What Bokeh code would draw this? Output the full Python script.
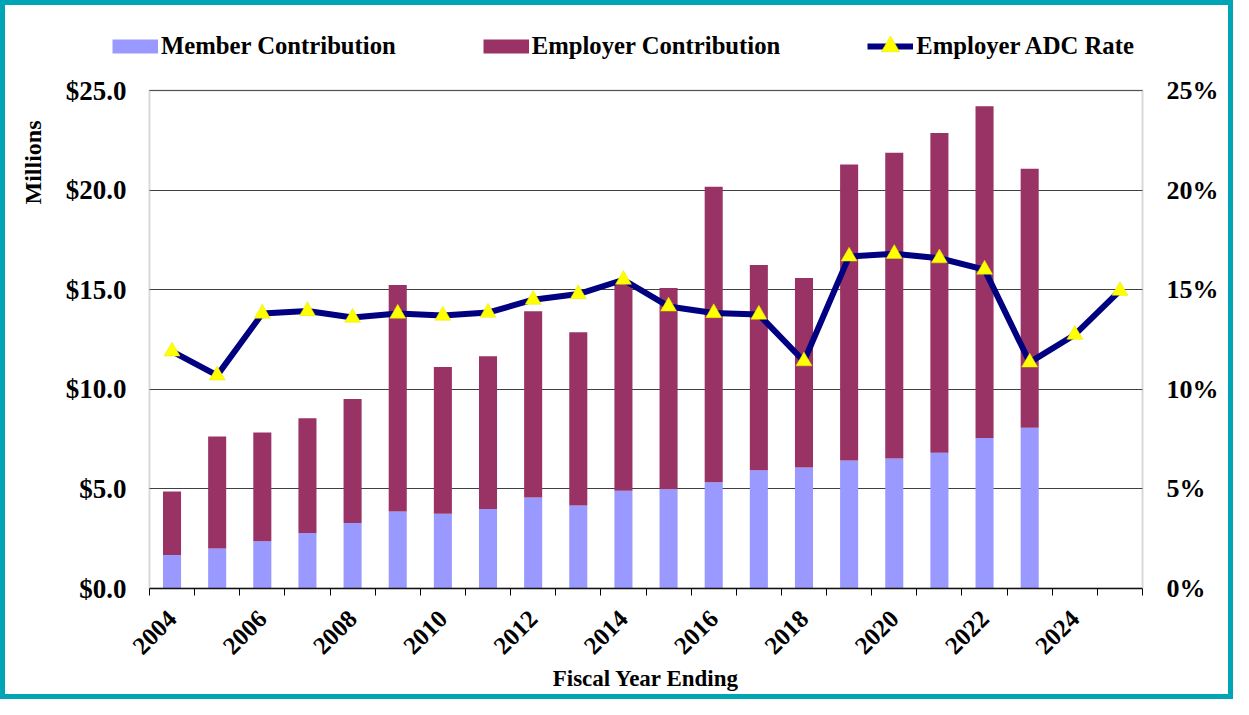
import math
from bokeh.plotting import figure
from bokeh.models import (Range1d, LinearAxis, FixedTicker, NumeralTickFormatter,
                          PrintfTickFormatter, BasicTickFormatter, Legend, LegendItem,
                          ColumnDataSource, Title, BoxAnnotation)
from bokeh.embed import file_html
from bokeh.resources import INLINE

# ---- data ----
years = [str(y) for y in range(2004, 2024)]
member = [1.68, 2.01, 2.37, 2.78, 3.29, 3.86, 3.75, 3.99, 4.57, 4.17,
          4.91, 4.98, 5.34, 5.94, 6.07, 6.43, 6.53, 6.81, 7.56, 8.07]
employer = [3.19, 5.62, 5.46, 5.77, 6.22, 11.38, 7.37, 7.67, 9.35, 8.70,
            10.49, 10.11, 14.83, 10.30, 9.52, 14.85, 15.34, 16.06, 16.65, 13.00]
rate_years = [str(y) for y in range(2004, 2026)]
adc_rate = [11.9, 10.7, 13.8, 13.93, 13.6, 13.8, 13.7, 13.85, 14.5, 14.78,
            15.5, 14.16, 13.83, 13.75, 11.41, 16.67, 16.8, 16.58, 16.01, 11.35,
            12.74, 14.95]
tick_years = [2004, 2006, 2008, 2010, 2012, 2014, 2016, 2018, 2020, 2022, 2024]
left_ticks = [0, 5, 10, 15, 20, 25]
right_ticks = [0, 5, 10, 15, 20, 25]
series_names = ["Member Contribution", "Employer Contribution", "Employer ADC Rate"]

FONT = "Liberation Serif"
MEMBER_C = "#9999FF"
EMPLOYER_C = "#993366"
LINE_C = "#000080"

# ---- layout geometry (pixels) ----
W, H = 1233, 699
PLOT_L, PLOT_R = 148, 1142          # the value area
FRAME_L, FRAME_R = 105, 1185        # frame extends beyond it to host the legend
FRAME_T, AXIS_T, FRAME_B = 20, 90, 588
AX_MAX = 25.0
y_max = AX_MAX * (FRAME_B - FRAME_T) / (FRAME_B - AXIS_T)

x_bar = [int(y) for y in years]
x_rate = [int(y) for y in rate_years]
first, last = x_rate[0] - 0.5, x_rate[-1] + 0.5
boundaries = [first + i for i in range(len(x_rate) + 1)]
px_per_x = (PLOT_R - PLOT_L) / (last - first)
x_start = first - (PLOT_L - FRAME_L) / px_per_x
x_end = last + (FRAME_R - PLOT_R) / px_per_x
nan = float("nan")

p = figure(width=W, height=H, output_backend="svg", toolbar_location=None,
           x_range=Range1d(x_start, x_end), y_range=Range1d(0, y_max),
           min_border_left=FRAME_L, min_border_right=W - FRAME_R,
           min_border_top=FRAME_T, min_border_bottom=H - FRAME_B)
p.styles = {"box-shadow": "inset 0 0 0 5px #00A5B5", "background-color": "white"}
p.border_fill_color = None
p.background_fill_color = None
p.outline_line_color = None
p.extra_y_ranges = {"rate": Range1d(0, y_max)}

# hide grid lines outside the value area
for lo, hi in ((x_start, first), (last, x_end)):
    p.add_layout(BoxAnnotation(left=lo, right=hi, bottom=0, top=AX_MAX + 0.2,
                               fill_color="white", fill_alpha=1, line_alpha=0,
                               level="underlay"))

src = ColumnDataSource(dict(x=x_bar, member=member, employer=employer))
bars = p.vbar_stack(["member", "employer"], x="x", width=0.4, source=src,
                    color=[MEMBER_C, EMPLOYER_C], line_color=None)
line_r = p.line(x_rate, adc_rate, y_range_name="rate", line_color=LINE_C, line_width=6)
mark_r = p.scatter(x_rate, adc_rate, y_range_name="rate", marker="triangle", size=16,
                   fill_color="#FFFF00", line_color="#E6E600", line_width=0.5)

# plot-area border (grey) around the value area
p.add_layout(BoxAnnotation(left=first, right=last, bottom=0, top=AX_MAX,
                           fill_alpha=0, line_color="#808080", line_width=2))

# legend swatches (thick butt-capped lines give 14px-high colour bars)
sw_member = p.line(x=[nan], y=[nan], line_color=MEMBER_C, line_width=14, line_cap="butt")
sw_employer = p.line(x=[nan], y=[nan], line_color=EMPLOYER_C, line_width=14, line_cap="butt")

# x axis
xa = p.xaxis[0]
xa.bounds = (first, last)
xa.ticker = FixedTicker(ticks=tick_years, minor_ticks=boundaries)
xa.formatter = BasicTickFormatter(use_scientific=False)
xa.major_tick_out = 0
xa.major_tick_in = 0
xa.minor_tick_out = 7
xa.minor_tick_in = 0
xa.minor_tick_line_color = "black"
xa.axis_line_color = "black"
xa.axis_line_width = 1.5
xa.major_label_orientation = math.pi / 4
xa.major_label_standoff = 19
xa.major_label_text_font = FONT
xa.major_label_text_font_style = "bold"
xa.major_label_text_font_size = "25px"
xa.major_label_text_color = "black"
xa.axis_label = "Fiscal Year Ending"
xa.axis_label_text_font = FONT
xa.axis_label_text_font_style = "bold"
xa.axis_label_text_font_size = "23px"
xa.axis_label_text_color = "black"
xa.axis_label_standoff = 1
p.xgrid.visible = False

# left axis
ya = p.yaxis[0]
ya.ticker = FixedTicker(ticks=left_ticks)
ya.formatter = NumeralTickFormatter(format="$0.0")
ya.axis_line_color = None
ya.major_tick_out = 0
ya.major_tick_in = 0
ya.minor_tick_out = 0
ya.minor_tick_in = 0
ya.major_label_standoff = 23 - (PLOT_L - FRAME_L)
ya.major_label_text_font = FONT
ya.major_label_text_font_style = "bold"
ya.major_label_text_font_size = "27px"
ya.major_label_text_color = "black"
p.ygrid.ticker = FixedTicker(ticks=left_ticks)
p.ygrid.grid_line_color = "#404040"
p.ygrid.grid_line_width = 1

# "Millions" title near top of the left side
p.add_layout(Title(text="Millions", align="right", offset=100, standoff=34,
                   text_font=FONT, text_font_style="bold", text_font_size="24px",
                   text_color="black"), "left")

# right axis
ra = LinearAxis(y_range_name="rate", ticker=FixedTicker(ticks=right_ticks),
                formatter=PrintfTickFormatter(format="%d%%"))
ra.axis_line_color = None
ra.major_tick_out = 0
ra.major_tick_in = 0
ra.minor_tick_out = 0
ra.minor_tick_in = 0
ra.major_label_standoff = 24 - (FRAME_R - PLOT_R)
ra.major_label_text_font = FONT
ra.major_label_text_font_style = "bold"
ra.major_label_text_font_size = "26px"
ra.major_label_text_color = "black"
p.add_layout(ra, "right")

legend = Legend(items=[LegendItem(label=series_names[0], renderers=[sw_member]),
                       LegendItem(label=series_names[1], renderers=[sw_employer]),
                       LegendItem(label=series_names[2], renderers=[line_r, mark_r])],
                location=(6, FRAME_B - 70), orientation="horizontal",
                glyph_width=46, glyph_height=48, label_standoff=3,
                padding=0, margin=0, spacing=87,
                border_line_color=None, background_fill_alpha=0,
                label_text_font=FONT, label_text_font_style="bold",
                label_text_font_size="24.7px", label_text_color="black")
p.add_layout(legend, "center")

open("out.html", "w").write(file_html(p, INLINE))
